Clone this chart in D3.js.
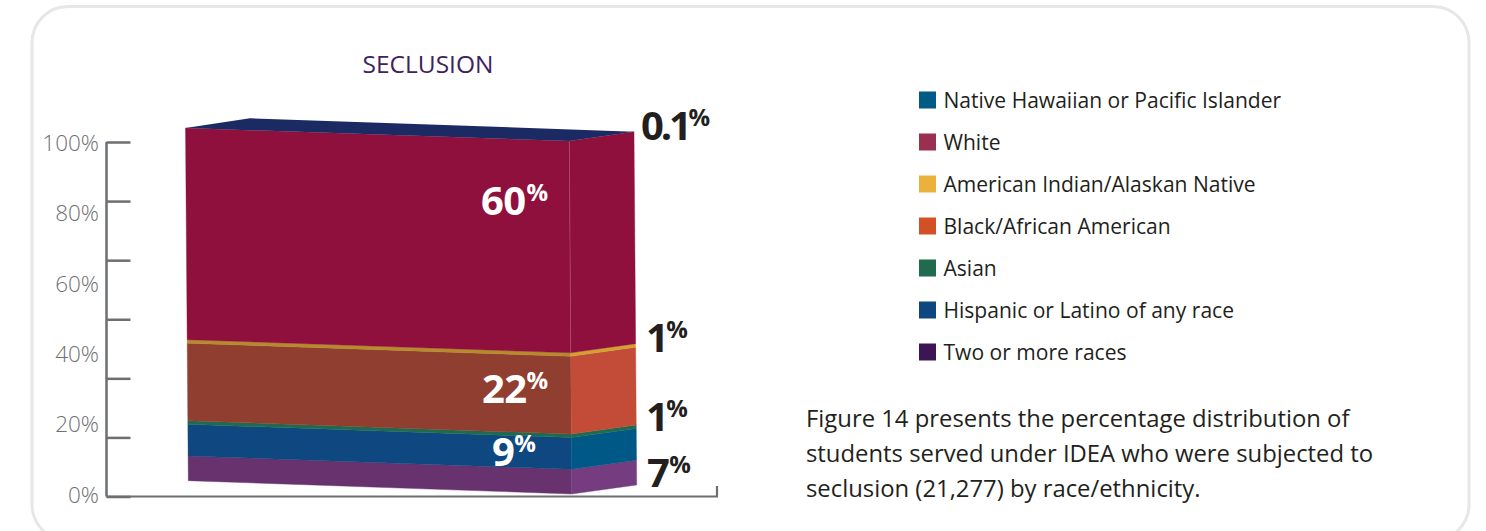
<!DOCTYPE html>
<html><head><meta charset="utf-8">
<script src="https://cdn.jsdelivr.net/npm/d3@7"></script>
<style>html,body{margin:0;padding:0;background:#fff;overflow:hidden}svg{display:block}text{font-family:"Open Sans",sans-serif}</style>
</head><body><svg id="c" width="1486" height="531"></svg>
<script>
// ---- data
const chartTitle = "SECLUSION";
const stackOrder = ["Two or more races","Hispanic or Latino of any race","Asian","Black/African American","American Indian/Alaskan Native","White","Native Hawaiian or Pacific Islander"];
const stackValues = [7,9,1,22,1,60,0.1];
const stackLabels = ["7","9","1","22","1","60","0.1"];
const frontColors = ["#68326f","#0f4880","#1f6b50","#8f3e30","#b78a2b","#8f103c","#1b2a63"];
const sideColors  = ["#763c80","#005887","#1f6b50","#c24c38","#d4a030","#8f103c","#1b2a63"];
const legendNames = ["Native Hawaiian or Pacific Islander","White","American Indian/Alaskan Native","Black/African American","Asian","Hispanic or Latino of any race","Two or more races"];
const legendColors = ["#005a84","#99304f","#ecb13c","#d35027","#206a4e","#0e4780","#3c1552"];
const axisMarks = [0,100/6,200/6,300/6,400/6,500/6,100];
const axisLabels = [0,20,40,60,80,100];
const captionLines = ["Figure 14 presents the percentage distribution of","students served under IDEA who were subjected to","seclusion (21,277) by race/ethnicity."];

// ---- layout
const svg = d3.select("#c");
svg.append("rect").attr("x",32).attr("y",6.5).attr("width",1437).attr("height",534).attr("rx",36)
  .attr("fill","#fff").attr("stroke","#e6e7e8").attr("stroke-width",3);

svg.append("text").attr("x",428).attr("y",73).attr("text-anchor","middle")
  .attr("font-size",24.5).attr("fill","#3f2260").text(chartTitle);

// axis
const axisColor = "#6d6e71";
const y = d3.scaleLinear().domain([0,100]).range([496.5,142]);
const yLabels = d3.scaleLinear().domain([0,100]).range([495,143]);
const marks = svg.append("g").attr("transform","translate(106.5,0)")
  .call(d3.axisRight(y).tickValues(axisMarks).tickSize(24).tickFormat(""));
marks.selectAll("line,path").attr("stroke",axisColor).attr("stroke-width",2.5);
marks.select(".domain").attr("d",`M0,${y(100)}V${y(0)}`);
const labs = svg.append("g").attr("transform","translate(99,0)")
  .call(d3.axisLeft(yLabels).tickValues(axisLabels).tickSize(0).tickPadding(0).tickFormat(d=>d+"%"));
labs.select(".domain").remove();
labs.selectAll("text").attr("font-family",'"Open Sans",sans-serif').attr("font-weight",300)
  .attr("font-size",22.5).attr("fill","#6f7073");
const x = d3.scaleLinear().domain([0,1]).range([106.5,717]);
svg.append("path").attr("fill","none").attr("stroke",axisColor).attr("stroke-width",2.2)
  .attr("d",`M${x(0)},${y(0)}H${x(1)}V486`);

// projected box: each vertical edge is a pair of scales on cumulative value
const total = d3.sum(stackValues);
const edge = (xb,yb,xt,yt) => ({
  x:d3.scaleLinear().domain([0,total]).range([xb,xt]),
  y:d3.scaleLinear().domain([0,total]).range([yb,yt])
});
const FL = edge(188.3,480.7,185.5,127.7);
const FR = edge(571.7,494,569.3,140.7);
const SR = edge(636.7,485,634,131.3);
const BL = edge(250,118.3,250,118.3);
const cum = d3.cumsum(stackValues);
const stack = stackValues.map((v,i)=>({i,lo:cum[i]-v,hi:cum[i]}));
const quad = (a,b,lo,hi)=>[[a.x(lo),a.y(lo)],[b.x(lo),b.y(lo)],[b.x(hi),b.y(hi)],[a.x(hi),a.y(hi)]];
const line = d3.line();
const box = stack.slice(0,-1);
svg.append("g").selectAll("path").data(box).join("path")
  .attr("d",d=>line(quad(FL,FR,d.lo,d.hi))+"Z").attr("fill",d=>frontColors[d.i])
  .attr("stroke",d=>frontColors[d.i]).attr("stroke-width",.4);
svg.append("g").selectAll("path").data(box).join("path")
  .attr("d",d=>line(quad(FR,SR,d.lo,d.hi))+"Z").attr("fill",d=>sideColors[d.i])
  .attr("stroke",d=>sideColors[d.i]).attr("stroke-width",.4);
// top face carries the 0.1% series
const topV = cum[cum.length-2];
svg.append("path").attr("fill",frontColors[6])
  .attr("d",line([[FL.x(topV),FL.y(topV)],[BL.x(topV),BL.y(topV)],[SR.x(topV),SR.y(topV)],[FR.x(topV),FR.y(topV)]])+"Z");
// seam between faces
svg.append("path").attr("fill","none").attr("stroke","#c9788f").attr("stroke-width",.6).attr("opacity",.7)
  .attr("d",line([[FR.x(cum[5]),FR.y(cum[5])],[FR.x(cum[4]),FR.y(cum[4])]]));

// value labels: [series index, x, baseline, colour, digit spacing, gap before %]
const labelSpots = [[5,481,214.5,"#fff",-0.6,1],[3,482,403,"#fff",-0.6,0],[1,492,465.5,"#fff",-0.6,0],
  [6,641,139.5,"#231f20",-3.2,0],[4,646,351.5,"#231f20",-0.6,-2],[2,646,430.5,"#231f20",-0.6,-2],[0,647,486.5,"#231f20",-0.6,0]];
const vl = svg.append("g").selectAll("text").data(labelSpots).join("text")
  .attr("x",d=>d[1]).attr("y",d=>d[2]).attr("fill",d=>d[3]).attr("font-weight",700)
  .attr("font-size",40);
vl.append("tspan").attr("letter-spacing",d=>d[4]).text(d=>stackLabels[d[0]]);
vl.append("tspan").attr("font-size",24).attr("dx",d=>d[5]).attr("dy",-14).text("%");

// legend
const lg = svg.append("g").selectAll("g").data(legendNames).join("g")
  .attr("transform",(d,i)=>`translate(919,${91.5+i*42})`);
lg.append("rect").attr("width",17).attr("height",17).attr("fill",(d,i)=>legendColors[i]);
lg.append("text").attr("x",24.5).attr("y",16.5).attr("font-size",21.05).attr("fill","#231f20").text(d=>d);

// caption
svg.append("g").selectAll("text").data(captionLines).join("text")
  .attr("x",806).attr("y",(d,i)=>427+i*35).attr("font-size",23.85).attr("fill","#231f20").text(d=>d);
</script></body></html>
